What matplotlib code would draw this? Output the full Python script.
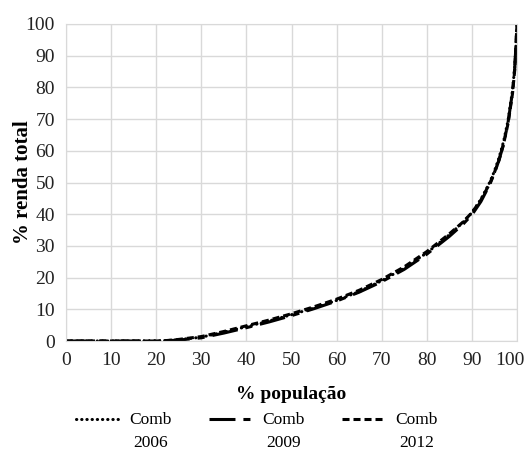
import matplotlib
matplotlib.use("Agg")
import matplotlib.pyplot as plt
import matplotlib.transforms as mtransforms

pop = [0, 5, 10, 15, 20, 22, 25, 30, 35, 40, 45, 50, 55, 60, 65, 70, 75, 80, 85, 88, 90, 92, 94, 95, 96, 97, 98, 99, 99.5, 100]
comb2006 = [0, 0, 0, 0, 0, 0.1, 0.4, 1.2, 2.8, 4.5, 6.3, 8.3, 10.4, 12.8, 15.6, 19.0, 23.0, 27.8, 33.5, 37.4, 40.5, 44.7, 50.2, 53.6, 57.8, 62.8, 69.5, 79.0, 86.5, 100]
comb2009 = [0, 0, 0, 0, 0, 0.05, 0.3, 1.0, 2.5, 4.2, 6.0, 8.0, 10.2, 12.6, 15.4, 18.7, 22.6, 27.4, 33.0, 36.8, 39.8, 44.0, 49.5, 53.0, 57.0, 62.0, 68.8, 78.5, 86.0, 100]
comb2012 = [0, 0, 0, 0, 0, 0.1, 0.5, 1.4, 3.0, 4.8, 6.6, 8.6, 10.8, 13.2, 16.0, 19.4, 23.4, 28.2, 33.8, 37.5, 40.5, 44.5, 49.8, 53.2, 57.0, 62.0, 68.5, 78.0, 85.5, 100]
labels = ["Comb\n2006", "Comb\n2009", "Comb\n2012"]
ticks = list(range(0, 101, 10))

plt.rcParams['font.family'] = ['Liberation Serif', 'DejaVu Serif']

fig = plt.figure(figsize=(5.26, 4.51), dpi=100)
ax = fig.add_axes([66/526, 1-341/451, (517-66)/526, (341-24)/451])

ax.plot(pop, comb2006, color='black', lw=2.2, linestyle=(0, (0.1, 1.6)), dash_capstyle='round', label=labels[0])
ax.plot(pop, comb2009, color='black', lw=2.2, linestyle=(0, (8.5, 2.6, 2.3, 2.6)), label=labels[1])
ax.plot(pop, comb2012, color='black', lw=2.2, linestyle=(0, (2.3, 1.3)), label=labels[2])

ax.set_xlim(0, 100)
ax.set_ylim(0, 100)
ax.set_xticks(ticks)
ax.set_yticks(ticks)
ax.grid(True, color='#d9d9d9', lw=1)
ax.set_axisbelow(True)
for s in ax.spines.values():
    s.set_color('#d9d9d9')
ax.tick_params(length=0, labelsize=14, colors='#222222', pad=8)
ax.set_xlabel('% população', fontsize=14, fontweight='bold', labelpad=12)
ax.set_ylabel('% renda total', fontsize=15, fontweight='bold')
ax.yaxis.set_label_coords(-33/451, 0.5)

# nudge the last x tick label so it stays inside the figure
last = ax.get_xticklabels()[-1]
last.set_transform(last.get_transform() + mtransforms.ScaledTranslation(-7/100, 0, fig.dpi_scale_trans))

leg = fig.legend(loc='lower left', bbox_to_anchor=(76/526, 0.0), ncol=3, frameon=False,
                 fontsize=12.5, handlelength=2.4, columnspacing=2.18, handletextpad=0.65,
                 borderaxespad=0.0, borderpad=0.0, labelspacing=0.2)
for t in leg.get_texts():
    t.set_multialignment('center')
    t.set_linespacing(1.6)
for h in leg.legend_handles:
    y = h.get_ydata()
    h.set_ydata([v + 9 for v in y])

fig.savefig('out.png', dpi=100)
